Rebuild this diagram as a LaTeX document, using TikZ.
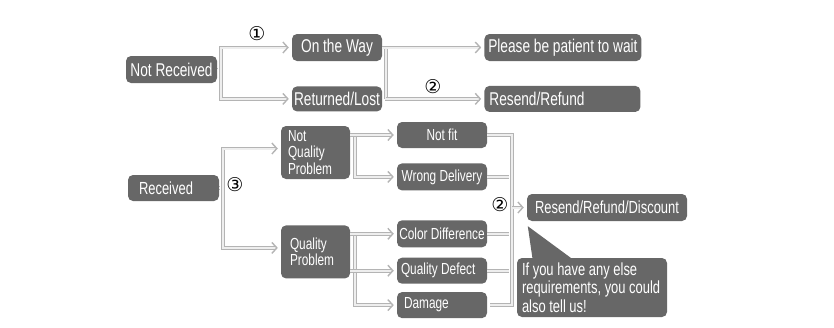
\documentclass[tikz,border=0pt]{standalone}
\usepackage{fontspec}
\usepackage{tikz}
\usetikzlibrary{arrows.meta,positioning,calc}
\newfontfamily\boxfont[FakeStretch=0.74]{Liberation Sans}
\newfontfamily\numfont{DejaVu Sans}
\definecolor{boxgray}{HTML}{676767}
\definecolor{linegray}{HTML}{B4B4B4}
\definecolor{lineinner}{HTML}{EEEEEE}

\begin{document}
\begin{tikzpicture}[
  x=1pt, y=-1pt, >={Straight Barb[length=5pt,width=11pt,line width=1.4pt]},
  box/.style={fill=boxgray, rounded corners=5pt, text=white, inner sep=0pt, minimum height=27pt, align=flush center},
  big/.style={font=\boxfont\fontsize{18.5}{20}\selectfont},
  mid/.style={font=\boxfont\fontsize{17.5}{18.5}\selectfont},
  small/.style={font=\boxfont\fontsize{16}{16.5}\selectfont},
  conn/.style={draw=linegray, line width=0.8pt, double=lineinner, double distance=2pt, shorten >=3pt},
  num/.style={font=\numfont\fontsize{19}{19}\selectfont, inner sep=0pt},
]
\useasboundingbox (0,0) rectangle (834,327);

% not received
\node[box, big, minimum width=91pt] (notrec) at (171.5,69.5) {Not Received};
\node[box, big, minimum width=90pt] (onway) at (337,47.5) {On the Way};
\node[box, big, minimum width=90pt, minimum height=25pt, below=25pt of onway] (retlost) {Returned/Lost};
\node[box, big, minimum width=157pt, right=102pt of onway] (wait) {Please be patient to wait};
\node[box, big, align=flush left, text width=146pt, inner xsep=5pt, minimum height=26pt, right=102pt of retlost] (resref) {Resend/Refund};
\node[num] (n1) at (257,34) {①};
\node[num] (n2) at (433,87) {②};

\coordinate (j1) at ($(notrec.east)+(4,0)$);
\coordinate (j2) at ($(onway.east)+(4,0)$);
\draw[conn,->] (j1) |- (onway.west);
\draw[conn,->] (j1) |- (retlost.west);
\draw[conn] (notrec.east) -- (j1);
\draw[conn] (onway.east) -- (j2) -- (j2 |- retlost) -- (retlost.east);
\draw[conn,->] (j2 |- wait) -- (wait.west);
\draw[conn,->] (j2 |- resref) -- (resref.west);

% received
\node[box, mid, align=flush left, text width=69pt, inner xsep=11pt, minimum height=26pt] (recv) at (173.5,188) {Received};
\node[box, small, align=flush left, text width=55pt, inner xsep=7pt, minimum height=53pt] (nqp) at (315.5,152.5) {Not\\Quality\\Problem};
\node[box, small, align=flush left, text width=51pt, inner xsep=9pt, minimum height=53pt, below=46pt of nqp] (qp) {Quality\\Problem};
\node[box, small, minimum width=90pt, minimum height=26pt] (notfit) at (442,135) {Not fit};
\node[box, small, minimum width=90pt, below=15pt of notfit] (wrongdel) {Wrong Delivery};
\node[box, small, minimum width=90pt, below=29.5pt of wrongdel] (colordiff) {Color Difference};
\node[box, small, align=flush left, text width=82pt, inner xsep=4pt, minimum height=26pt, below=10pt of colordiff] (qdefect) {Quality Defect};
\node[box, small, align=flush left, text width=76pt, inner xsep=7pt, minimum height=26pt, below=8pt of qdefect] (damage) {Damage};
\node[box, mid, minimum width=160pt] (rrd) at (607,207.5) {Resend/Refund/Discount};
\node[box, mid, align=flush left, text width=140pt, inner xsep=5pt, minimum height=59pt] (callout) at (592,287.5) {If you have any else\\requirements, you could\\also tell us!};
\coordinate (tip) at ($(rrd.south west)+(1,5)$);
\fill[boxgray] (tip) -- ($(callout.north west)+(58,3)$) -- ($(callout.north west)+(16,3)$) -- cycle;
\node[num] (n3) at (235,185) {③};
\node[num] (n4) at (500,205) {②};

\coordinate (j3) at ($(recv.east)+(4,0)$);
\coordinate (j4) at ($(nqp.east)+(5,0)$);
\coordinate (j5) at ($(qp.east)+(5,0)$);
\coordinate (j6) at ($(notfit.east)+(25,0)$);
\draw[conn,->] (j3) |- ([yshift=4pt]nqp.west);
\draw[conn,->] (j3) |- ([yshift=4pt]qp.west);
\draw[conn] (recv.east) -- (j3);
\draw[conn,->] (j4 |- notfit) |- (wrongdel.west);
\draw[conn,->] (nqp.east |- notfit) -- (notfit.west);
\draw[conn,->] (j5 |- colordiff) |- (damage.west);
\draw[conn,->] (qp.east |- colordiff) -- (colordiff.west);
\draw[conn,->] (qp.east |- qdefect) -- (qdefect.west);
\draw[conn] (notfit.east) -| (j6 |- damage) -- (damage.east);
\draw[conn] (wrongdel.east) -- (j6 |- wrongdel);
\draw[conn] (colordiff.east) -- (j6 |- colordiff);
\draw[conn] (qdefect.east) -- (j6 |- qdefect);
\draw[conn,->] (j6 |- rrd) -- (rrd.west);
\end{tikzpicture}
\end{document}
